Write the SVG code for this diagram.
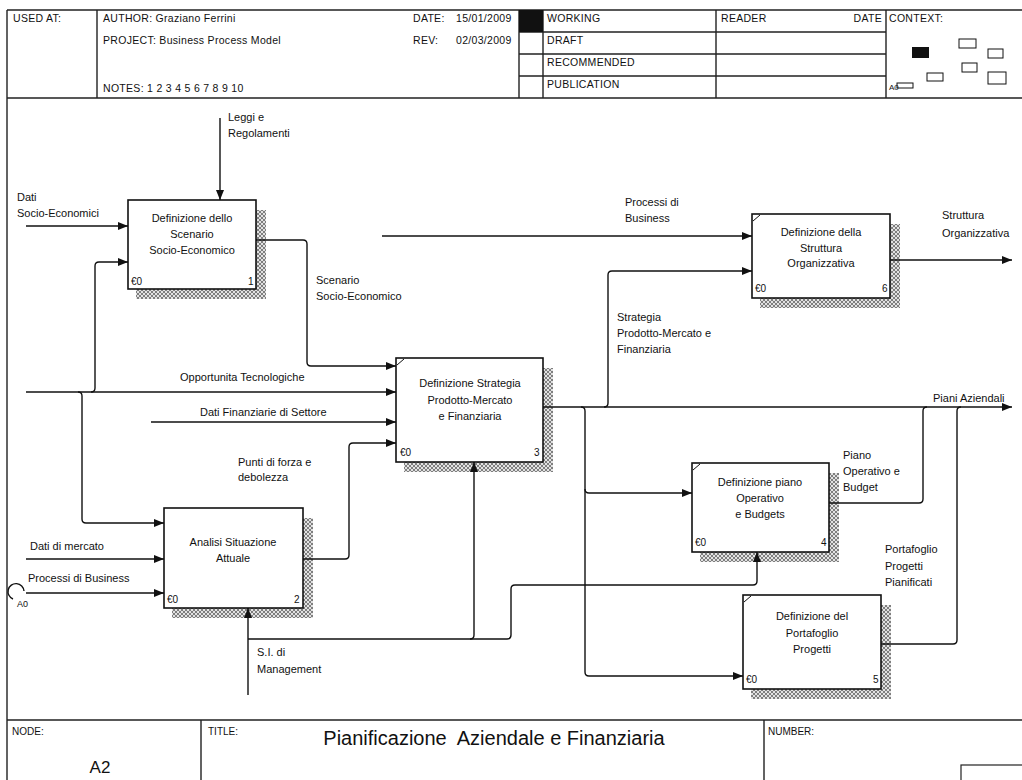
<svg xmlns="http://www.w3.org/2000/svg" width="1022" height="780" viewBox="0 0 1022 780">
  <defs>
    <style>
      text { font-family: "Liberation Sans", Arial, sans-serif; fill: #111; }
      .lbl { font-size: 11px; }
      .box-t { font-size: 11px; text-anchor: middle; }
      .hdr { font-size: 10.5px; letter-spacing: 0.3px; }
      .small { font-size: 10px; }
      .frame { stroke: #222; stroke-width: 1.4; fill: none; }
      .box { fill: #fff; stroke: #111; stroke-width: 1.6; }
      .shadow { fill: url(#hatch); }
      .tick { stroke: #111; stroke-width: 1; }
      .wire { stroke: #111; stroke-width: 1.4; fill: none; }
      .arrow { marker-end: url(#ah); }
    </style>
    <pattern id="hatch" width="4" height="4" patternUnits="userSpaceOnUse">
      <rect width="4" height="4" fill="#e2e2e2"/>
      <path d="M0,0 L4,4 M4,0 L0,4" stroke="#666" stroke-width="0.8"/>
    </pattern>
    <marker id="ah" markerWidth="10" markerHeight="8" refX="10" refY="4" orient="auto" markerUnits="userSpaceOnUse">
      <path d="M0,0 L10,4 L0,8 Z" fill="#111"/>
    </marker>
  </defs>

  <rect width="1022" height="780" fill="#fff"/>

  <!-- header block -->
  <g id="header">
    <path class="frame" d="M7,10 H1022 M7,98 H1022 M7,10 V780 M97,10 V98 M519,10 V98 M543,10 V98 M716,10 V98 M886,10 V98 M519,32 H886 M519,54 H886 M519,76 H886"/>
    <rect x="519" y="10" width="24" height="22" fill="#111"/>
    <text class="hdr" x="13" y="22">USED AT:</text>
    <text class="hdr" x="103" y="22">AUTHOR: Graziano Ferrini</text>
    <text class="hdr" x="103" y="44">PROJECT: Business Process Model</text>
    <text class="hdr" x="103" y="92">NOTES: 1 2 3 4 5 6 7 8 9 10</text>
    <text class="hdr" x="413" y="22">DATE:</text>
    <text class="hdr" x="456" y="22">15/01/2009</text>
    <text class="hdr" x="413" y="44">REV:</text>
    <text class="hdr" x="456" y="44">02/03/2009</text>
    <text class="hdr" x="547" y="22">WORKING</text>
    <text class="hdr" x="547" y="44">DRAFT</text>
    <text class="hdr" x="547" y="66">RECOMMENDED</text>
    <text class="hdr" x="547" y="88">PUBLICATION</text>
    <text class="hdr" x="721" y="22">READER</text>
    <text class="hdr" x="882" y="22" text-anchor="end">DATE</text>
    <text class="hdr" x="889" y="22">CONTEXT:</text>
    <!-- context map -->
    <rect x="912" y="47" width="17" height="11" fill="#111"/>
    <g fill="none" stroke="#111" stroke-width="1">
      <rect x="959" y="39" width="17" height="9"/>
      <rect x="988" y="49" width="15" height="9"/>
      <rect x="927" y="73" width="16" height="8"/>
      <rect x="962" y="63" width="15" height="9"/>
      <rect x="988" y="72" width="18" height="12"/>
      <rect x="897" y="83" width="16" height="5"/>
    </g>
    <text x="889" y="90" style="font-size:8px">A0</text>
  </g>

  <!-- footer block -->
  <g id="footer">
    <path class="frame" d="M7,720 H1022 M201,720 V780 M764,720 V780"/>
    <rect x="961" y="765" width="70" height="20" fill="none" stroke="#222" stroke-width="1.2"/>
    <text class="small" x="12" y="735">NODE:</text>
    <text x="100" y="773" text-anchor="middle" style="font-size:17px">A2</text>
    <text class="small" x="208" y="735">TITLE:</text>
    <text x="494" y="745" text-anchor="middle" style="font-size:20px; white-space:pre">Pianificazione  Aziendale e Finanziaria</text>
    <text class="small" x="768" y="735">NUMBER:</text>
  </g>

  <!-- activity boxes -->
  <g id="box1">
    <rect class="shadow" x="136" y="210" width="130" height="89"/>
    <rect class="box" x="128" y="200" width="128" height="89"/>
    <text class="box-t" x="192" y="222">Definizione dello</text>
    <text class="box-t" x="192" y="238">Scenario</text>
    <text class="box-t" x="192" y="254">Socio-Economico</text>
    <text class="small" x="131" y="285">€0</text>
    <text class="small" x="248" y="285">1</text>
  </g>

  <g id="box2">
    <rect class="shadow" x="172" y="518" width="141" height="100"/>
    <rect class="box" x="164" y="508" width="139" height="100"/>
    <text class="box-t" x="233" y="546">Analisi Situazione</text>
    <text class="box-t" x="233" y="562">Attuale</text>
    <text class="small" x="167" y="603">€0</text>
    <text class="small" x="294" y="603">2</text>
  </g>

  <g id="box3">
    <rect class="shadow" x="404" y="368" width="149" height="104"/>
    <rect class="box" x="396" y="358" width="147" height="104"/>
    <line class="tick" x1="397" y1="365" x2="404" y2="359"/>
    <text class="box-t" x="470" y="387">Definizione Strategia</text>
    <text class="box-t" x="470" y="404">Prodotto-Mercato</text>
    <text class="box-t" x="470" y="420">e Finanziaria</text>
    <text class="small" x="400" y="456">€0</text>
    <text class="small" x="534" y="456">3</text>
  </g>

  <g id="box4">
    <rect class="shadow" x="700" y="473" width="139" height="89"/>
    <rect class="box" x="692" y="463" width="137" height="89"/>
    <line class="tick" x1="693" y1="470" x2="700" y2="464"/>
    <text class="box-t" x="760" y="486">Definizione piano</text>
    <text class="box-t" x="760" y="502">Operativo</text>
    <text class="box-t" x="760" y="518">e Budgets</text>
    <text class="small" x="695" y="546">€0</text>
    <text class="small" x="821" y="546">4</text>
  </g>

  <g id="box5">
    <rect class="shadow" x="751" y="605" width="140" height="94"/>
    <rect class="box" x="743" y="595" width="138" height="94"/>
    <line class="tick" x1="744" y1="602" x2="751" y2="596"/>
    <text class="box-t" x="812" y="620">Definizione del</text>
    <text class="box-t" x="812" y="637">Portafoglio</text>
    <text class="box-t" x="812" y="653">Progetti</text>
    <text class="small" x="746" y="683">€0</text>
    <text class="small" x="873" y="683">5</text>
  </g>

  <g id="box6">
    <rect class="shadow" x="760" y="224" width="140" height="84"/>
    <rect class="box" x="752" y="214" width="138" height="84"/>
    <line class="tick" x1="753" y1="221" x2="760" y2="215"/>
    <text class="box-t" x="821" y="236">Definizione della</text>
    <text class="box-t" x="821" y="252">Struttura</text>
    <text class="box-t" x="821" y="267">Organizzativa</text>
    <text class="small" x="755" y="292">€0</text>
    <text class="small" x="882" y="292">6</text>
  </g>

  <!-- connectors, drawn over the box shadows -->
  <g id="connectors">
    <path class="wire arrow" d="M220,118 V200"/>
    <path class="wire arrow" d="M26,226 H128"/>
    <path class="wire arrow" d="M26,392 H396"/>
    <path class="wire arrow" d="M91,392 Q95,392 95,388 V266 Q95,262 99,262 H128"/>
    <path class="wire arrow" d="M78,392 Q82,392 82,396 V519 Q82,523 86,523 H164"/>
    <path class="wire arrow" d="M256,240 H303 Q307,240 307,244 V362 Q307,366 311,366 H396"/>
    <path class="wire arrow" d="M151,422 H396"/>
    <path class="wire arrow" d="M303,559 H345 Q349,559 349,555 V447 Q349,443 353,443 H396"/>
    <path class="wire arrow" d="M26,559 H164"/>
    <path class="wire arrow" d="M26,593 H164"/>
    <path class="wire" d="M24,591 A8,8 0 1 0 13,599"/>
    <path class="wire arrow" d="M248,695 V608"/>
    <path class="wire arrow" d="M248,639 H507 Q511,639 511,635 V589 Q511,585 515,585 H753 Q757,585 757,581 V552"/>
    <path class="wire arrow" d="M470,639 Q474,639 474,635 V462"/>
    <path class="wire arrow" d="M543,407 H1012"/>
    <path class="wire arrow" d="M604,407 Q608,407 608,403 V275 Q608,271 612,271 H752"/>
    <path class="wire arrow" d="M581,407 Q585,407 585,411 V672 Q585,676 589,676 H743"/>
    <path class="wire arrow" d="M585,489 Q585,493 589,493 H692"/>
    <path class="wire arrow" d="M382,236 H752"/>
    <path class="wire arrow" d="M890,260 H1012"/>
    <path class="wire" d="M829,503 H919 Q923,503 923,499 V411 Q923,407 927,407"/>
    <path class="wire" d="M881,644 H953 Q957,644 957,640 V411 Q957,407 961,407"/>
  </g>

  <!-- connector labels -->
  <g id="labels" class="lbl">
    <text x="228" y="121">Leggi e</text>
    <text x="228" y="137">Regolamenti</text>
    <text x="17" y="201">Dati</text>
    <text x="17" y="217">Socio-Economici</text>
    <text x="316" y="284">Scenario</text>
    <text x="316" y="300">Socio-Economico</text>
    <text x="625" y="206">Processi di</text>
    <text x="625" y="222">Business</text>
    <text x="942" y="219">Struttura</text>
    <text x="942" y="237">Organizzativa</text>
    <text x="617" y="321">Strategia</text>
    <text x="617" y="337">Prodotto-Mercato e</text>
    <text x="617" y="353">Finanziaria</text>
    <text x="180" y="381">Opportunita Tecnologiche</text>
    <text x="200" y="416">Dati Finanziarie di Settore</text>
    <text x="238" y="466">Punti di forza e</text>
    <text x="238" y="481">debolezza</text>
    <text x="933" y="402">Piani Aziendali</text>
    <text x="843" y="459">Piano</text>
    <text x="843" y="475">Operativo e</text>
    <text x="843" y="491">Budget</text>
    <text x="885" y="553">Portafoglio</text>
    <text x="885" y="570">Progetti</text>
    <text x="885" y="586">Pianificati</text>
    <text x="30" y="550">Dati di mercato</text>
    <text x="28" y="582">Processi di Business</text>
    <text x="17" y="607" style="font-size:9px">A0</text>
    <text x="257" y="656">S.I. di</text>
    <text x="257" y="673">Management</text>
  </g>
</svg>
